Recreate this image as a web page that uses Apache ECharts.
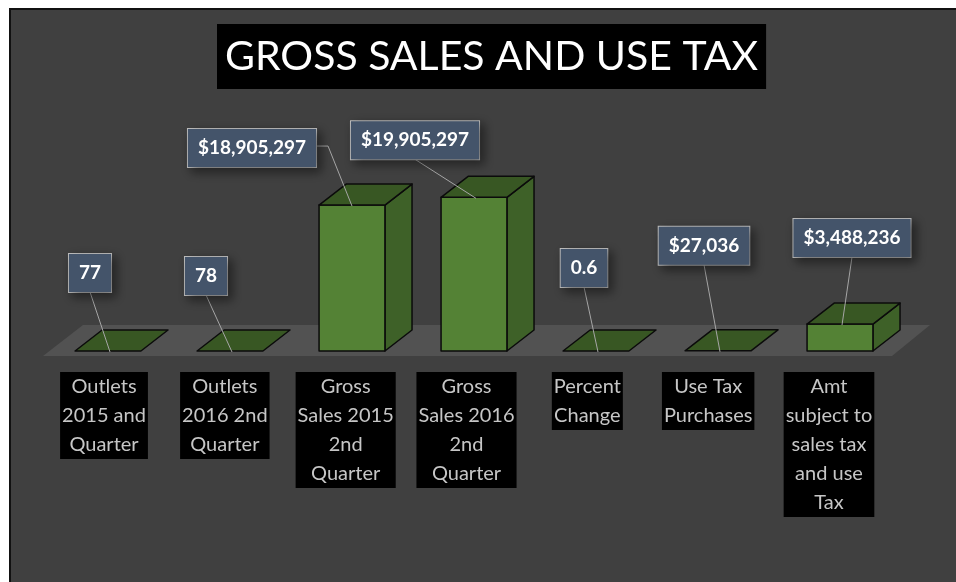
<!DOCTYPE html>
<html>
<head>
<meta charset="utf-8">
<script src="https://cdn.jsdelivr.net/npm/echarts@6/dist/echarts.min.js"></script>
<style>
  html, body { margin: 0; padding: 0; background: #fff; }
  .frame {
    position: absolute; left: 9px; top: 8px; right: 0; bottom: 0;
    background: #404040;
    border-left: 2px solid #111;
    border-top: 2px solid #111;
  }
  #chart { position: absolute; left: 0; top: 0; width: 956px; height: 582px; }
</style>
</head>
<body>
<div class="frame"></div>
<div id="chart"></div>
<script>
  // categories (line breaks as in the original labels)
  var categories = [
    'Outlets\n2015 and\nQuarter',
    'Outlets\n2016 2nd\nQuarter',
    'Gross\nSales 2015\n2nd\nQuarter',
    'Gross\nSales 2016\n2nd\nQuarter',
    'Percent\nChange',
    'Use Tax\nPurchases',
    'Amt\nsubject to\nsales tax\nand use\nTax'
  ];
  var values = [77, 78, 18905297, 19905297, 0.6, 27036, 3488236];
  var isCurrency = [false, false, true, true, false, true, true];

  // callout placement relative to the top of each column (styling only)
  var calloutOffsets = [[-18, -78], [-24, -75], [-100, -57], [-59, -57], [-12, -83], [-14, -105], [12, -86]];
  var calloutFromSide = [false, false, true, false, false, false, false];

  var chartTitle = 'GROSS SALES AND USE TAX';

  function fmt(v, i){
    var s = v.toLocaleString('en-US', { maximumFractionDigits: 2 });
    return isCurrency[i] ? '$' + s : s;
  }

  var chartDom = document.getElementById('chart');
  var myChart = echarts.init(chartDom, null, { renderer: 'canvas' });

  var labelFont = 'bold 19px Lato';

  function renderFloor(params, api){
    var cs = params.coordSys;
    var base = api.coord([0, 0])[1];
    var fy = base + 5, by = base - 26;
    return {
      type: 'polygon',
      shape: { points: [
        [cs.x - 4, fy], [cs.x + cs.width - 9, fy],
        [cs.x + cs.width + 29, by], [cs.x + 36, by]
      ] },
      style: { fill: '#525252' },
      silent: true
    };
  }

  function renderBar(params, api){
    var i = api.value(0);
    var top = api.coord([i, api.value(1)]);
    var base = api.coord([i, 0]);
    var band = api.size([1, 0])[0];
    var bw = band * 0.54;
    var dx = band * 0.222, dy = -band * 0.172;
    var x0 = top[0] - bw / 2, ty = top[1], by = base[1];
    var line = { stroke: '#0b0b0b', lineWidth: 1.5, lineJoin: 'round' };
    var children = [];
    if (by - ty > 0.5) {
      children.push({
        type: 'polygon',
        shape: { points: [[x0 + bw, ty], [x0 + bw + dx, ty + dy], [x0 + bw + dx, by + dy], [x0 + bw, by]] },
        style: Object.assign({ fill: '#3e6128' }, line)
      });
      children.push({
        type: 'rect',
        shape: { x: x0, y: ty, width: bw, height: by - ty },
        style: Object.assign({ fill: '#548235' }, line)
      });
    }
    children.push({
      type: 'polygon',
      shape: { points: [[x0, ty], [x0 + dx, ty + dy], [x0 + bw + dx, ty + dy], [x0 + bw, ty]] },
      style: Object.assign({ fill: '#385723' }, line)
    });
    return { type: 'group', children: children };
  }

  function renderCallout(params, api){
    var i = api.value(0);
    var top = api.coord([i, api.value(1)]);
    var text = fmt(values[i], i);
    var off = calloutOffsets[i];
    var cx = top[0] + off[0], cy = top[1] + off[1];
    var tw = new echarts.graphic.Text({ style: { text: text, font: labelFont } }).getBoundingRect().width;
    var halfW = tw / 2 + 10, halfH = 19;
    var pts;
    if (calloutFromSide[i]) {
      pts = [[cx + halfW, cy - 2], [cx + halfW + 12, cy - 2], [top[0], top[1] + 1]];
    } else {
      pts = [[cx, cy + halfH], [top[0] + 2, top[1] + 1]];
    }
    return {
      type: 'group',
      children: [
        { type: 'polyline', shape: { points: pts }, style: { stroke: '#a6a6a6', lineWidth: 1, fill: null } },
        {
          type: 'text', x: cx, y: cy,
          style: {
            text: text, font: labelFont, fill: '#ffffff',
            align: 'center', verticalAlign: 'middle',
            lineHeight: 22,
            backgroundColor: '#44546a', borderColor: '#bfbfbf', borderWidth: 1,
            padding: [8, 10],
            shadowColor: 'rgba(0,0,0,0.45)', shadowBlur: 10, shadowOffsetX: 4, shadowOffsetY: 4
          }
        }
      ]
    };
  }

  var option = {
    animation: false,
    title: {
      text: chartTitle,
      left: 217, top: 24,
      padding: [10, 8],
      backgroundColor: '#000',
      textStyle: { color: '#fff', fontFamily: 'Lato', fontWeight: 'normal', fontSize: 41, lineHeight: 45 }
    },
    grid: [
      { left: 47, top: 158, width: 854, height: 193 },
      { left: 43.6, top: 158, width: 845.8, height: 193 }
    ],
    xAxis: [
      { type: 'category', gridIndex: 0, data: categories, show: false },
      {
        type: 'category', gridIndex: 1, data: categories,
        axisLine: { show: false }, axisTick: { show: false }, splitLine: { show: false },
        axisLabel: {
          interval: 0, margin: 21,
          color: '#c6c6c6', fontFamily: 'Lato', fontSize: 20, lineHeight: 29,
          backgroundColor: '#000', padding: [0, 2],
          verticalAlign: 'top'
        }
      }
    ],
    yAxis: [
      { type: 'value', gridIndex: 0, min: 0, max: 25000000, show: false },
      { type: 'value', gridIndex: 1, min: 0, max: 25000000, show: false }
    ],
    series: [
      {
        type: 'custom', name: 'floor', xAxisIndex: 0, yAxisIndex: 0,
        renderItem: renderFloor, data: [[0, 0]], z: 1, silent: true
      },
      {
        type: 'custom', name: 'Gross Sales and Use Tax', xAxisIndex: 0, yAxisIndex: 0,
        renderItem: renderBar,
        data: values.map(function(v, i){ return [i, v]; }),
        z: 2
      },
      {
        type: 'custom', name: 'labels', xAxisIndex: 0, yAxisIndex: 0,
        renderItem: renderCallout,
        data: values.map(function(v, i){ return [i, v]; }),
        z: 3, silent: true
      }
    ]
  };
  option && myChart.setOption(option);
</script>
</body>
</html>
